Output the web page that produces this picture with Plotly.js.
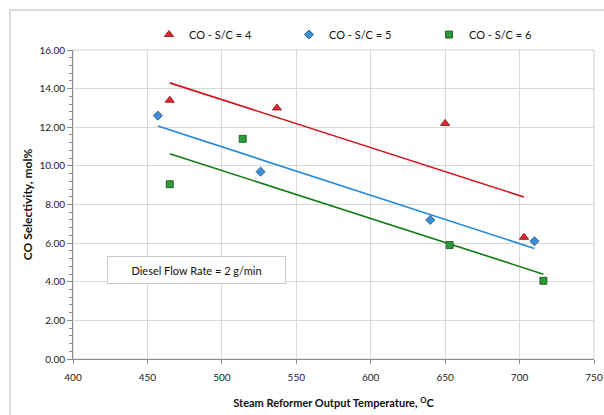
<!DOCTYPE html>
<html>
<head>
<meta charset="utf-8">
<script src="https://cdn.plot.ly/plotly-3.0.1.min.js"></script>
<style>html,body{margin:0;padding:0;background:#fff;}#chart{width:604px;height:415px;}</style>
</head>
<body>
<div id="chart"></div>
<script>
// Data
const seriesNames = ["CO - S/C = 4", "CO - S/C = 5", "CO - S/C = 6"];
const tempSC4 = [465, 537, 650, 703];
const coSC4   = [13.4, 13.0, 12.2, 6.3];
const tempSC5 = [457, 526, 640, 710];
const coSC5   = [12.6, 9.7, 7.2, 6.1];
const tempSC6 = [465, 514, 653, 716];
const coSC6   = [9.05, 11.4, 5.9, 4.05];
const xTicks  = [400, 450, 500, 550, 600, 650, 700, 750];
const yTicks  = [0, 2, 4, 6, 8, 10, 12, 14, 16];
const noteText = "Diesel Flow Rate = 2 g/min";

// Linear trendline (least squares), spanning the data range, as in the original
function trend(xs, ys) {
  const n = xs.length;
  const mx = xs.reduce((a, b) => a + b, 0) / n;
  const my = ys.reduce((a, b) => a + b, 0) / n;
  let sxy = 0, sxx = 0;
  for (let i = 0; i < n; i++) { sxy += (xs[i] - mx) * (ys[i] - my); sxx += (xs[i] - mx) ** 2; }
  const m = sxy / sxx, b = my - m * mx;
  const x0 = Math.min(...xs), x1 = Math.max(...xs);
  return { x: [x0, x1], y: [m * x0 + b, m * x1 + b] };
}

const styles = [
  { line: "#d0121b", fill: "#e0282e", edge: "#7a0a0a", symbol: "triangle-up", size: 8 },
  { line: "#1f88d8", fill: "#3b8fd8", edge: "#1b4f80", symbol: "diamond", size: 7 },
  { line: "#127a12", fill: "#2f9a3a", edge: "#0d4d14", symbol: "square", size: 7 }
];
const xsAll = [tempSC4, tempSC5, tempSC6];
const ysAll = [coSC4, coSC5, coSC6];

const traces = [];
for (let i = 0; i < 3; i++) {
  const t = trend(xsAll[i], ysAll[i]);
  traces.push({
    x: t.x, y: t.y, mode: "lines", type: "scatter", showlegend: false, hoverinfo: "skip",
    line: { color: styles[i].line, width: 1.6 }
  });
}
for (let i = 0; i < 3; i++) {
  traces.push({
    x: xsAll[i], y: ysAll[i], mode: "markers", type: "scatter", name: seriesNames[i],
    marker: { symbol: styles[i].symbol, size: styles[i].size, color: styles[i].fill,
              line: { color: styles[i].edge, width: 0.8 } }
  });
}

const W = 604, H = 415, L = 73, R = 10, T = 50, B = 56;
const pw = W - L - R, ph = H - T - B;

const layout = {
  width: W, height: H,
  margin: { l: L, r: R, t: T, b: B, pad: 0, autoexpand: false },
  paper_bgcolor: "#fff", plot_bgcolor: "#fff",
  font: { family: "Lato, 'Open Sans', sans-serif", size: 10, color: "#222" },
  showlegend: true,
  legend: {
    orientation: "h", x: (149 - L) / pw, xanchor: "left", y: 1.05, yanchor: "middle",
    font: { size: 11, color: "#111" }, itemwidth: 30, tracegroupgap: 0,
    entrywidth: 95, entrywidthmode: "pixels",
    bgcolor: "rgba(0,0,0,0)"
  },
  xaxis: {
    range: [400, 750], tickvals: xTicks, ticktext: xTicks.map(String), automargin: false,
    showgrid: true, gridcolor: "#d9d9d9", gridwidth: 1,
    showline: true, linecolor: "#8c8c8c", linewidth: 1,
    ticks: "outside", ticklen: 4, tickcolor: "#8c8c8c", ticklabelstandoff: 5,
    tickfont: { size: 10, color: "#222" }, zeroline: false,
    title: { text: "<b>Steam Reformer Output Temperature, <sup>O</sup>C</b>", font: { size: 11, color: "#111" }, standoff: 17 }
  },
  yaxis: {
    range: [0, 16], tickvals: yTicks, ticktext: yTicks.map(v => v.toFixed(2)), automargin: false,
    showgrid: true, gridcolor: "#d9d9d9", gridwidth: 1,
    showline: true, linecolor: "#8c8c8c", linewidth: 1,
    ticks: "outside", ticklen: 5, tickcolor: "#8c8c8c",
    minor: { dtick: 0.4, ticks: "outside", ticklen: 3, tickcolor: "#8c8c8c", showgrid: false },
    tickfont: { size: 10, color: "#222" }, zeroline: false,
    title: { text: "<b>CO Selectivity, mol%</b>", font: { size: 12, color: "#111" }, standoff: 4 }
  },
  shapes: [
    { type: "rect", xref: "paper", yref: "paper", x0: 0, x1: 1, y0: 0, y1: 1,
      line: { color: "#d0d0d0", width: 1 }, layer: "below" },
    { type: "rect", xref: "paper", yref: "paper",
      x0: (10 - L) / pw, x1: (W + 20 - L) / pw, y0: -(H + 20 - T - ph) / ph, y1: (ph + T - 10) / ph,
      line: { color: "#d0d0d0", width: 1.5 }, layer: "below" }
  ],
  annotations: [
    { x: 483, y: 4.6, xref: "x", yref: "y", text: noteText, showarrow: false,
      font: { size: 11, color: "#111" }, bgcolor: "#fff", bordercolor: "#c8c8c8", borderwidth: 1,
      width: 175, height: 24, align: "center", valign: "middle" }
  ]
};

Plotly.newPlot("chart", traces, layout, { displayModeBar: false, staticPlot: true });
</script>
</body>
</html>
